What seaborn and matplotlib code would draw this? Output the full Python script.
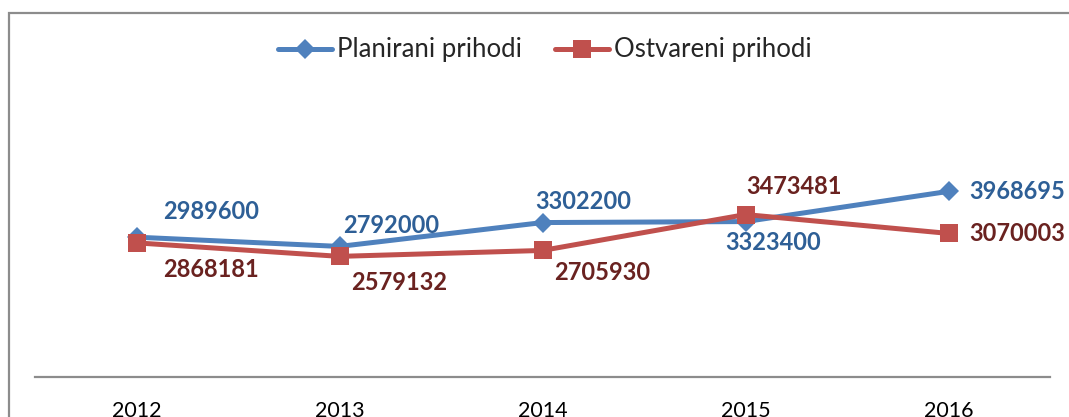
import matplotlib
matplotlib.use("Agg")
import matplotlib.pyplot as plt
import pandas as pd
import seaborn as sns
from matplotlib.patches import Rectangle

years = ["2012", "2013", "2014", "2015", "2016"]
planirani = [2989600, 2792000, 3302200, 3323400, 3968695]
ostvareni = [2868181, 2579132, 2705930, 3473481, 3070003]
series_names = ["Planirani prihodi", "Ostvareni prihodi"]

# label offsets in pixels (dx, dy) from each point
off_plan = [(27, 26), (4, 21), (-7, 21), (-20, -21), (21, 0)]
off_ostv = [(27, -27), (12, -26), (12, -22), (1, 28), (21, 0)]

sns.set_theme(style="white")
plt.rcParams["font.family"] = ["Lato", "DejaVu Sans"]

df = pd.DataFrame({
    "year": years * 2,
    "value": planirani + ostvareni,
    "serie": [series_names[0]] * 5 + [series_names[1]] * 5,
})

blue, red = "#4F81BD", "#C0504D"
fig = plt.figure(figsize=(10.69, 4.17), dpi=100)
ax = fig.add_axes([35 / 1069, 40 / 417, 1015 / 1069, 304 / 417])

sns.lineplot(data=df, x="year", y="value", hue="serie", style="serie",
             palette={series_names[0]: blue, series_names[1]: red},
             markers={series_names[0]: "D", series_names[1]: "s"},
             dashes=False, linewidth=3.6, markersize=12,
             markeredgewidth=0, sort=False, ax=ax)

# bigger squares than diamonds
for line in ax.lines:
    if line.get_marker() == "s":
        line.set_markersize(13)
    elif line.get_marker() == "D":
        line.set_markersize(10)

for i, v in enumerate(planirani):
    ax.annotate(str(v), (i, v), xytext=off_plan[i], textcoords="offset pixels",
                ha="left", va="center", fontsize=17, fontweight="bold",
                color="#2E5F96")
for i, v in enumerate(ostvareni):
    ax.annotate(str(v), (i, v), xytext=off_ostv[i], textcoords="offset pixels",
                ha="left", va="center", fontsize=17, fontweight="bold",
                color="#6A2220")

ax.set_xlim(-0.5, 4.5)
ax.set_ylim(0, 6.5e6)
ax.set_xlabel("")
ax.set_ylabel("")
ax.set_yticks([])
ax.tick_params(axis="x", length=0, pad=17, labelsize=15.5, colors="black")
for s in ["top", "left", "right"]:
    ax.spines[s].set_visible(False)
ax.spines["bottom"].set_color("#8C8C8C")
ax.spines["bottom"].set_linewidth(1.6)

ax.legend(loc="center", bbox_to_anchor=(545 / 1069, 1 - 50 / 417),
          bbox_transform=fig.transFigure, ncol=2, frameon=False,
          fontsize=18.5, handlelength=2.1, columnspacing=1.3, handletextpad=0.2)

fig.patches.append(Rectangle((9 / 1069, -0.1), 1.2, 1.1 - 13 / 417,
                             transform=fig.transFigure, fill=False,
                             edgecolor="#8C8C8C", linewidth=1.6))

fig.savefig("out.png", dpi=100)
